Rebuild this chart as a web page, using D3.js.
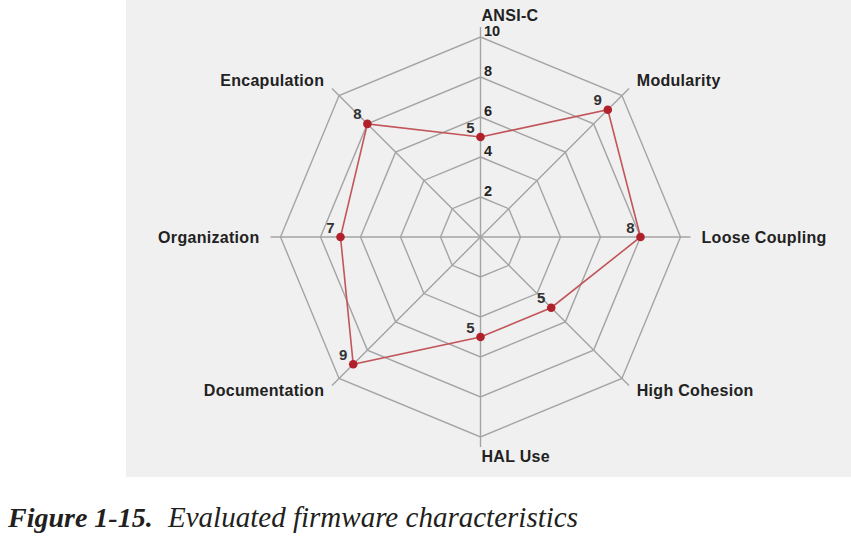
<!DOCTYPE html>
<html>
<head>
<meta charset="utf-8">
<script src="https://cdn.jsdelivr.net/npm/d3@7"></script>
<style>
  html, body { margin: 0; padding: 0; background: #ffffff; }
  svg { display: block; }
</style>
</head>
<body>
<svg id="chart" width="851" height="536"></svg>
<script>
const categories = ["ANSI-C", "Modularity", "Loose Coupling", "High Cohesion", "HAL Use", "Documentation", "Organization", "Encapulation"];
const values = [5, 9, 8, 5, 5, 9, 7, 8];
const gridLevels = [2, 4, 6, 8, 10];
const tickLabels = ["2", "4", "6", "8", "10"];
const maxValue = 10;
const captionBold = "Figure 1-15.";
const captionText = "Evaluated firmware characteristics";

const svg = d3.select("#chart");
const W = 851, H = 536;
const cx = 480.5, cy = 237;

svg.append("rect").attr("x", 126).attr("y", 0).attr("width", W - 126).attr("height", 477).attr("fill", "#f0f0f0");

const r = d3.scaleLinear().domain([0, maxValue]).range([0, 200]);
const angle = d3.scalePoint().domain(categories.concat(["__end"])).range([0, 2 * Math.PI]);
const pt = (cat, v) => {
  const a = angle(cat);
  return [cx + Math.sin(a) * r(v), cy - Math.cos(a) * r(v)];
};

const g = svg.append("g");

// grid polygons
gridLevels.forEach(lv => {
  g.append("path")
    .attr("d", d3.line()(categories.map(c => pt(c, lv))) + "Z")
    .attr("fill", "none").attr("stroke", "#a4a4a4").attr("stroke-width", 1.4);
});

// axes
categories.forEach(c => {
  const [x2, y2] = pt(c, maxValue * 1.05);
  g.append("line").attr("x1", cx).attr("y1", cy).attr("x2", x2).attr("y2", y2)
    .attr("stroke", "#a4a4a4").attr("stroke-width", 1.4);
});

// tick labels
gridLevels.forEach((lv, i) => {
  const [x, y] = pt(categories[0], lv);
  g.append("text").attr("x", x + 3.5).attr("y", y - 1)
    .attr("font-family", "Liberation Sans, Arial, sans-serif").attr("font-weight", "bold")
    .attr("font-size", 14.5).attr("fill", "#222").text(tickLabels[i]);
});

// category labels
categories.forEach(c => {
  const a = angle(c);
  const s = Math.sin(a), co = Math.cos(a);
  const vertical = Math.abs(s) < 0.01;
  const rr = vertical ? (co > 0 ? 222 : 219) : 221;
  let x = cx + s * rr, y = cy - co * rr;
  if (!vertical && co < -0.1) y -= 3;
  let anchor = "start";
  if (vertical) { x = cx + 1; }
  else if (s < 0) anchor = "end";
  g.append("text").attr("x", x).attr("y", y)
    .attr("text-anchor", anchor).attr("dominant-baseline", "central")
    .attr("font-family", "Liberation Sans, Arial, sans-serif").attr("font-weight", "bold")
    .attr("font-size", 16).attr("letter-spacing", 0.3).attr("fill", "#222").text(c);
});

// data line
const pts = categories.map((c, i) => pt(c, values[i]));
g.append("path").attr("d", d3.line()(pts) + "Z")
  .attr("fill", "none").attr("stroke", "#c2555a").attr("stroke-width", 1.6);

// points
g.selectAll("circle.pt").data(pts).enter().append("circle")
  .attr("cx", d => d[0]).attr("cy", d => d[1]).attr("r", 4.3).attr("fill", "#b0212b");

// value labels
g.selectAll("text.val").data(pts).enter().append("text")
  .attr("x", d => d[0] - 10).attr("y", d => d[1] - 10)
  .attr("text-anchor", "middle").attr("dominant-baseline", "central")
  .attr("font-family", "Liberation Sans, Arial, sans-serif").attr("font-weight", "bold")
  .attr("font-size", 15).attr("fill", "#333").text((d, i) => values[i]);

// caption
const cap = svg.append("text").attr("x", 8).attr("y", 527)
  .attr("font-family", "Liberation Serif, DejaVu Serif, serif").attr("font-style", "italic")
  .attr("font-size", 28).attr("fill", "#231f20");
cap.append("tspan").attr("font-weight", "bold").text(captionBold);
cap.append("tspan").attr("x", 168).attr("font-size", 29)
  .attr("textLength", 410).attr("lengthAdjust", "spacingAndGlyphs").text(captionText);
</script>
</body>
</html>
